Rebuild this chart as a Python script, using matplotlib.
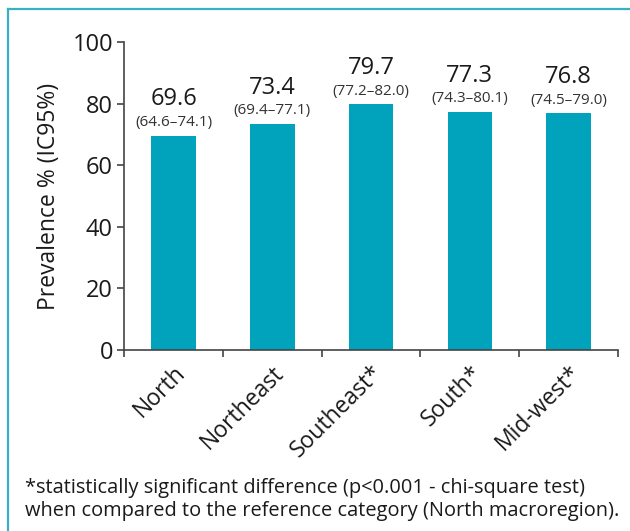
import matplotlib
matplotlib.use("Agg")
import matplotlib.pyplot as plt
from matplotlib.lines import Line2D

regions = ["North", "Northeast", "Southeast*", "South*", "Mid-west*"]
prevalence = [69.6, 73.4, 79.7, 77.3, 76.8]
ci_low = [64.6, 69.4, 77.2, 74.3, 74.5]
ci_high = [74.1, 77.1, 82.0, 80.1, 79.0]
yticks = [0, 20, 40, 60, 80, 100]

bar_color = "#00A2BC"
frame_color = "#3AB0C6"
axis_color = "#444444"
text_color = "#1a1a1a"

plt.rcParams['font.family'] = ['Open Sans', 'DejaVu Sans']

fig = plt.figure(figsize=(6.3, 5.31), dpi=100)
ax = fig.add_axes([0.197, 0.341, 0.784, 0.580])

x = range(len(regions))
ax.bar(x, prevalence, width=0.45, color=bar_color, zorder=2)

for i, v in enumerate(prevalence):
    ax.annotate("(%.1f\u2013%.1f)" % (ci_low[i], ci_high[i]), (i, v),
                xytext=(0, 4), textcoords="offset points",
                ha="center", va="bottom", fontsize=11, color="#333333")
    ax.annotate("%.1f" % v, (i, v), xytext=(0, 17.5), textcoords="offset points",
                ha="center", va="bottom", fontsize=17, color=text_color)

ax.set_xlim(-0.5, len(regions) - 0.5)
ax.set_ylim(0, 100)
ax.set_yticks(yticks)
ax.set_yticklabels([str(t) for t in yticks], fontsize=17, color=text_color)

# category ticks sit between the bars
ax.set_xticks([i - 0.5 for i in range(len(regions) + 1)])
ax.set_xticklabels([])
ax.set_xticks(list(x), minor=True)
ax.set_xticklabels(regions, minor=True, rotation=45, ha="right",
                   rotation_mode="anchor", fontsize=16.5, color=text_color)
ax.tick_params(axis="x", which="minor", length=0, pad=8)
ax.tick_params(axis="x", which="major", length=5, width=1.2, color=axis_color)
ax.tick_params(axis="y", length=5, width=1.2, color=axis_color, pad=3)

for s in ["top", "right"]:
    ax.spines[s].set_visible(False)
for s in ["left", "bottom"]:
    ax.spines[s].set_color(axis_color)
    ax.spines[s].set_linewidth(1.2)

ax.set_ylabel("Prevalence % (IC95%)", fontsize=16.5, color=text_color, labelpad=8)

fig.text(0.04, 0.018, "*statistically significant difference (p<0.001 - chi-square test)\n"
         "when compared to the reference category (North macroregion).",
         fontsize=14.4, color=text_color, ha="left", va="bottom", linespacing=1.2)

# frame around the figure (top and left edges visible)
fig.add_artist(Line2D([8 / 630, 1], [1 - 9 / 531, 1 - 9 / 531], color=frame_color, lw=1.6))
fig.add_artist(Line2D([8 / 630, 8 / 630], [0, 1 - 9 / 531], color=frame_color, lw=1.6))

fig.savefig("out.png", dpi=100)
